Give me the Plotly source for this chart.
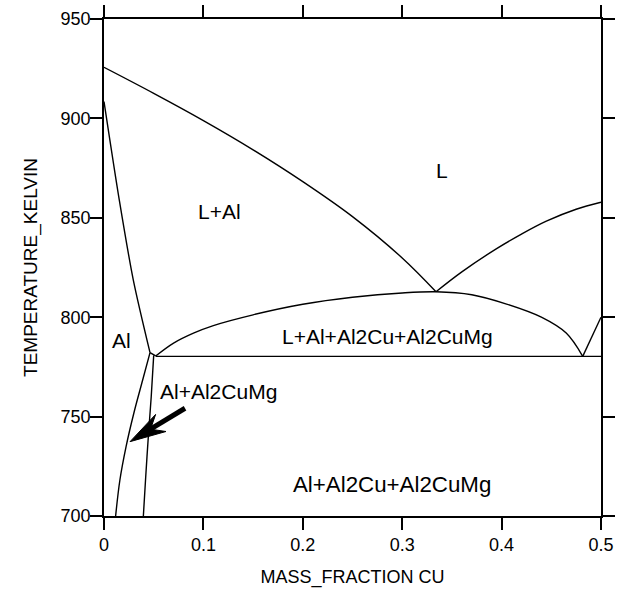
import math
import plotly.graph_objects as go

# ---- data (mass fraction Cu, temperature K) ----
liq_al_x = [0.0, 0.05, 0.10, 0.15, 0.20, 0.25, 0.30, 0.334]
liq_al_t = [925.7, 912.6, 898.9, 884.2, 868.2, 850.6, 829.8, 812.8]

liq_cu_x = [0.334, 0.360, 0.395, 0.420, 0.445, 0.475, 0.500]
liq_cu_t = [812.8, 822.8, 834.5, 841.8, 848.3, 854.3, 857.8]

sol_x = [0.0, 0.0154, 0.0295, 0.0463]
sol_t = [908.5, 858.9, 818.7, 782.2]

junc_x = [0.0463, 0.052]
junc_t = [782.2, 780.5]

dome_x = [0.052, 0.070, 0.090, 0.110, 0.150, 0.200, 0.250, 0.300, 0.334, 0.370, 0.405, 0.440, 0.465, 0.4816]
dome_t = [780.5, 787.0, 792.0, 795.8, 801.2, 806.5, 810.0, 812.2, 812.8, 811.3, 806.6, 800.0, 792.0, 780.3]

right_x = [0.4816, 0.500]
right_t = [780.3, 800.0]

inv_x = [0.052, 0.500]
inv_t = [780.3, 780.3]

solvus_a_x = [0.0463, 0.0389, 0.0300, 0.0222, 0.0160, 0.0117]
solvus_a_t = [782.2, 768.4, 751.7, 734.9, 718.1, 700.0]

solvus_b_x = [0.0500, 0.0475, 0.0446, 0.0420, 0.0396]
solvus_b_t = [780.8, 760.0, 740.0, 720.0, 700.0]

labels = ["L", "L+Al", "Al", "Al+Al2CuMg", "L+Al+Al2Cu+Al2CuMg", "Al+Al2Cu+Al2CuMg"]
label_x = [0.3397, 0.1157, 0.0178, 0.115, 0.2854, 0.290]
label_t = [874.0, 853.1, 788.5, 762.5, 790.2, 715.6]
label_size = [21, 21, 21, 21, 21, 22.3]

arrow_tip = (0.0262, 737.4)
arrow_tail = (0.0815, 754.2)

x_ticks = [0, 0.1, 0.2, 0.3, 0.4, 0.5]
y_ticks = [700, 750, 800, 850, 900, 950]

X_RANGE = [0, 0.5]
Y_RANGE = [700, 950]
W, H = 621, 590
ML, MR, MT, MB = 104, 20, 19, 74

FONT = "Liberation Sans, Arial, Helvetica, sans-serif"

fig = go.Figure()
for xs, ts, sm in [(liq_al_x, liq_al_t, 1.0), (liq_cu_x, liq_cu_t, 1.0), (sol_x, sol_t, 0.8),
                   (junc_x, junc_t, 0), (dome_x, dome_t, 1.0), (right_x, right_t, 0),
                   (inv_x, inv_t, 0), (solvus_a_x, solvus_a_t, 1.0), (solvus_b_x, solvus_b_t, 0.8)]:
    fig.add_trace(go.Scatter(x=xs, y=ts, mode="lines",
                             line=dict(color="black", width=1.4, shape="spline" if sm else "linear",
                                       smoothing=sm if sm else None),
                             showlegend=False, hoverinfo="skip"))

# ---- arrow (shaft + barbed head), geometry derived from tip/tail via the axis scales ----
sx = (W - ML - MR) / (X_RANGE[1] - X_RANGE[0])
sy = (H - MT - MB) / (Y_RANGE[1] - Y_RANGE[0])
dx = (arrow_tail[0] - arrow_tip[0]) * sx
dy = (arrow_tail[1] - arrow_tip[1]) * sy
n = math.hypot(dx, dy)
ux, uy = dx / n, dy / n
px_, py_ = -uy, ux
HEAD_LEN, HEAD_HALF, NOTCH = 36, 10, 24

def pt(along, perp):
    return (arrow_tip[0] + (ux * along + px_ * perp) / sx,
            arrow_tip[1] + (uy * along + py_ * perp) / sy)

head = [pt(0, 0), pt(HEAD_LEN, HEAD_HALF), pt(NOTCH, 0), pt(HEAD_LEN, -HEAD_HALF), pt(0, 0)]
shaft_start = pt(NOTCH - 2, 0)
fig.add_trace(go.Scatter(x=[shaft_start[0], arrow_tail[0]], y=[shaft_start[1], arrow_tail[1]],
                         mode="lines", line=dict(color="black", width=5), showlegend=False, hoverinfo="skip"))
fig.add_trace(go.Scatter(x=[p[0] for p in head], y=[p[1] for p in head], mode="lines", fill="toself",
                         fillcolor="black", line=dict(color="black", width=1), showlegend=False, hoverinfo="skip"))

for txt, lx, lt, fs in zip(labels, label_x, label_t, label_size):
    fig.add_annotation(x=lx, y=lt, text=txt, showarrow=False, font=dict(family=FONT, size=fs, color="black"))

axis_common = dict(showline=True, linecolor="black", linewidth=1.5, mirror="allticks",
                   ticks="outside", ticklen=12, tickwidth=1.5, tickcolor="black",
                   showgrid=False, zeroline=False,
                   tickfont=dict(family=FONT, size=18, color="black"))

fig.update_xaxes(range=X_RANGE, tickvals=x_ticks, ticktext=[f"{v:g}" for v in x_ticks],
                 title=dict(text="MASS_FRACTION CU", font=dict(family=FONT, size=18, color="#000000"), standoff=16),
                 **axis_common)
fig.update_yaxes(range=Y_RANGE, tickvals=y_ticks, ticklabelstandoff=-4,
                 title=dict(text="TEMPERATURE_KELVIN", font=dict(family=FONT, size=19, color="#000000"), standoff=18),
                 **axis_common)

fig.update_layout(width=W, height=H, margin=dict(l=ML, r=MR, t=MT, b=MB, autoexpand=False),
                  paper_bgcolor="white", plot_bgcolor="white")

fig.write_html("out.html")
